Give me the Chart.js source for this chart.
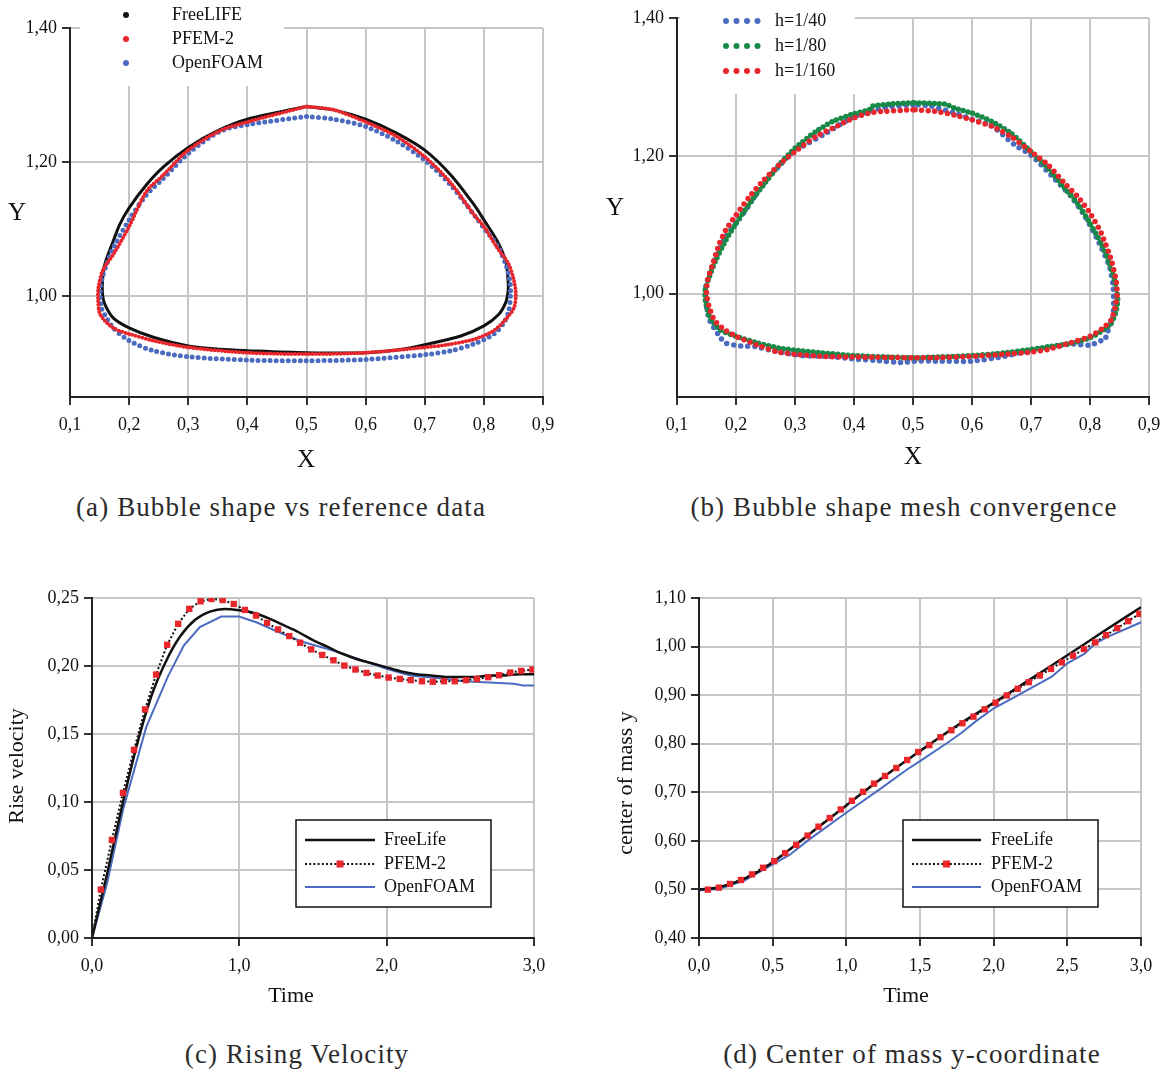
<!DOCTYPE html>
<html>
<head>
<meta charset="utf-8">
<script src="https://cdn.jsdelivr.net/npm/chart.js@4.4.1/dist/chart.umd.min.js"></script>
<style>
  body { margin: 0; background: #fff; width: 1167px; height: 1073px; position: relative; overflow: hidden; }
  .box { position: absolute; }
  .cap { position: absolute; font-family: "Liberation Serif", serif; font-size: 27px; letter-spacing: 1.1px; line-height: 1; color: #2a2a2a; white-space: nowrap; transform: translateX(-50%); }
</style>
</head>
<body>
<div class="box" style="left:0px;top:0px"><canvas id="chartA" width="570" height="480"></canvas></div>
<div class="box" style="left:585px;top:0px"><canvas id="chartB" width="582" height="480"></canvas></div>
<div class="box" style="left:0px;top:560px"><canvas id="chartC" width="570" height="460"></canvas></div>
<div class="box" style="left:585px;top:560px"><canvas id="chartD" width="582" height="460"></canvas></div>

<div class="cap" style="left:281px;top:494px">(a) Bubble shape vs reference data</div>
<div class="cap" style="left:904px;top:494px">(b) Bubble shape mesh convergence</div>
<div class="cap" style="left:297px;top:1041px">(c) Rising Velocity</div>
<div class="cap" style="left:912px;top:1041px">(d) Center of mass y-coordinate</div>

<script>
// ---- (a) bubble shape vs reference data (closed contours)
const freeLifeX = [0.5, 0.4, 0.35, 0.3, 0.258, 0.229, 0.2, 0.184, 0.173, 0.159, 0.155, 0.155, 0.159, 0.173, 0.2, 0.241, 0.3, 0.354, 0.4, 0.5,
  0.6, 0.653, 0.7, 0.761, 0.8, 0.825, 0.837, 0.841, 0.841, 0.837, 0.823, 0.8, 0.783, 0.744, 0.7, 0.653, 0.6, 0.546, 0.5];
const freeLifeY = [1.283, 1.264, 1.247, 1.222, 1.193, 1.166, 1.132, 1.107, 1.082, 1.048, 1.023, 1.003, 0.988, 0.968, 0.953, 0.939, 0.926, 0.921, 0.919, 0.916,
  0.916, 0.920, 0.928, 0.941, 0.956, 0.973, 0.991, 1.008, 1.023, 1.052, 1.082, 1.114, 1.137, 1.181, 1.218, 1.243, 1.264, 1.278, 1.283];

const pfemX = [0.5, 0.4, 0.354, 0.3, 0.258, 0.229, 0.2, 0.173, 0.156, 0.148, 0.1475, 0.151, 0.173, 0.2, 0.241, 0.3, 0.4, 0.5,
  0.6, 0.7, 0.738, 0.783, 0.817, 0.839, 0.851, 0.854, 0.851, 0.842, 0.823, 0.8, 0.783, 0.744, 0.7, 0.653, 0.6, 0.546, 0.5];
const pfemY = [1.283, 1.260, 1.247, 1.218, 1.181, 1.156, 1.104, 1.062, 1.040, 1.013, 0.995, 0.973, 0.953, 0.944, 0.934, 0.924, 0.916, 0.914,
  0.916, 0.924, 0.928, 0.936, 0.949, 0.968, 0.983, 1.003, 1.023, 1.048, 1.072, 1.104, 1.122, 1.169, 1.208, 1.238, 1.260, 1.278, 1.283];

const foamX = [0.5, 0.4, 0.354, 0.3, 0.258, 0.229, 0.2, 0.173, 0.162, 0.153, 0.151, 0.153, 0.162, 0.173, 0.2, 0.241, 0.3, 0.4, 0.5,
  0.6, 0.7, 0.744, 0.783, 0.817, 0.834, 0.842, 0.845, 0.844, 0.837, 0.823, 0.8, 0.783, 0.744, 0.7, 0.653, 0.6, 0.546, 0.5];
const foamY = [1.268, 1.256, 1.246, 1.213, 1.176, 1.151, 1.114, 1.072, 1.048, 1.023, 1.008, 0.983, 0.968, 0.953, 0.934, 0.919, 0.910, 0.905, 0.904,
  0.906, 0.913, 0.919, 0.929, 0.944, 0.961, 0.978, 1.003, 1.023, 1.048, 1.075, 1.102, 1.122, 1.166, 1.203, 1.231, 1.253, 1.264, 1.268];

// ---- (b) mesh convergence
const h40X = [0.5, 0.459, 0.437, 0.4, 0.347, 0.313, 0.3, 0.273, 0.245, 0.217, 0.2, 0.183, 0.166, 0.158, 0.149, 0.150, 0.155, 0.172, 0.183, 0.208, 0.234, 0.268, 0.313, 0.358, 0.4, 0.437, 0.482, 0.5,
  0.542, 0.6, 0.655, 0.7, 0.729, 0.768, 0.8, 0.819, 0.825, 0.830, 0.839, 0.840, 0.839, 0.833, 0.813, 0.793, 0.768, 0.734, 0.7, 0.672, 0.633, 0.6, 0.571, 0.531, 0.5];
const h40Y = [1.274, 1.271, 1.267, 1.257, 1.230, 1.214, 1.209, 1.185, 1.158, 1.122, 1.102, 1.083, 1.054, 1.035, 1.011, 0.982, 0.962, 0.938, 0.928, 0.924, 0.923, 0.916, 0.910, 0.909, 0.905, 0.903, 0.900, 0.902,
  0.902, 0.902, 0.909, 0.918, 0.921, 0.927, 0.925, 0.932, 0.933, 0.945, 0.967, 0.996, 1.013, 1.040, 1.078, 1.110, 1.141, 1.172, 1.201, 1.216, 1.244, 1.253, 1.262, 1.272, 1.274];

const h80X = [0.5, 0.459, 0.431, 0.426, 0.4, 0.364, 0.335, 0.3, 0.273, 0.245, 0.223, 0.2, 0.183, 0.166, 0.155, 0.148, 0.148, 0.155, 0.172, 0.2, 0.234, 0.273, 0.3, 0.347, 0.4, 0.459, 0.5,
  0.542, 0.6, 0.655, 0.7, 0.729, 0.768, 0.8, 0.819, 0.836, 0.844, 0.847, 0.843, 0.833, 0.819, 0.8, 0.779, 0.757, 0.729, 0.7, 0.666, 0.633, 0.6, 0.571, 0.554, 0.5];
const h80Y = [1.277, 1.275, 1.272, 1.267, 1.261, 1.250, 1.235, 1.211, 1.187, 1.156, 1.131, 1.102, 1.078, 1.049, 1.025, 1.006, 0.991, 0.967, 0.948, 0.938, 0.929, 0.921, 0.918, 0.914, 0.910, 0.908, 0.907,
  0.908, 0.910, 0.914, 0.919, 0.923, 0.928, 0.936, 0.945, 0.957, 0.974, 0.991, 1.015, 1.044, 1.073, 1.102, 1.131, 1.153, 1.182, 1.206, 1.233, 1.250, 1.262, 1.269, 1.275, 1.277];

const h160X = [0.5, 0.431, 0.4, 0.364, 0.335, 0.3, 0.273, 0.245, 0.223, 0.2, 0.183, 0.172, 0.161, 0.152, 0.150, 0.154, 0.163, 0.177, 0.2, 0.234, 0.268, 0.3, 0.347, 0.4, 0.5,
  0.542, 0.6, 0.655, 0.7, 0.729, 0.768, 0.8, 0.822, 0.836, 0.843, 0.846, 0.844, 0.836, 0.819, 0.8, 0.779, 0.757, 0.729, 0.7, 0.666, 0.633, 0.6, 0.571, 0.542, 0.5];
const h160Y = [1.267, 1.263, 1.255, 1.240, 1.228, 1.206, 1.187, 1.163, 1.141, 1.114, 1.093, 1.073, 1.044, 1.020, 1.001, 0.982, 0.962, 0.950, 0.938, 0.926, 0.916, 0.912, 0.909, 0.908, 0.907,
  0.907, 0.909, 0.912, 0.915, 0.919, 0.929, 0.938, 0.950, 0.962, 0.982, 1.001, 1.020, 1.049, 1.088, 1.117, 1.141, 1.160, 1.187, 1.206, 1.228, 1.243, 1.252, 1.259, 1.264, 1.267];

// ---- (c) rising velocity
const velTimeFL = [0, 0.1, 0.2, 0.3, 0.4, 0.5, 0.6, 0.7, 0.8, 0.9, 1.0, 1.1, 1.2, 1.3, 1.4, 1.5, 1.6, 1.7, 1.8, 1.9, 2.0,
  2.1, 2.2, 2.3, 2.4, 2.5, 2.6, 2.7, 2.8, 2.9, 3.0];
const velFL = [0, 0.046, 0.095, 0.140, 0.177, 0.203, 0.222, 0.234, 0.240, 0.242, 0.241, 0.239, 0.235, 0.230, 0.225, 0.219, 0.214, 0.209, 0.205, 0.202, 0.199,
  0.196, 0.194, 0.193, 0.192, 0.192, 0.192, 0.193, 0.193, 0.194, 0.194];
const pfemTime = [0.06, 0.135, 0.21, 0.285, 0.36, 0.435, 0.51, 0.585, 0.66, 0.737, 0.811, 0.887, 0.962, 1.038, 1.113, 1.188, 1.263, 1.339, 1.413, 1.488,
  1.563, 1.639, 1.713, 1.788, 1.863, 1.939, 2.013, 2.089, 2.163, 2.239, 2.313, 2.389, 2.462, 2.539, 2.613, 2.689, 2.763, 2.839, 2.913, 2.989];
const velPF = [0.0356, 0.0721, 0.1067, 0.1384, 0.1681, 0.1937, 0.2156, 0.2310, 0.2420, 0.2476, 0.2493, 0.2485, 0.2456, 0.2412, 0.2371, 0.2317, 0.2269, 0.2220, 0.2171, 0.2122,
  0.2081, 0.2042, 0.2003, 0.1974, 0.1949, 0.1930, 0.1915, 0.1905, 0.1896, 0.1888, 0.1884, 0.1888, 0.1888, 0.1896, 0.1905, 0.1918, 0.1932, 0.1952, 0.1964, 0.1974];
const velTimeOF = [0, 0.102, 0.211, 0.368, 0.514, 0.623, 0.732, 0.877, 0.998, 1.119, 1.265, 1.434, 1.677, 1.999, 2.161, 2.355, 2.525, 2.864, 2.925, 3.0];
const velOF = [0, 0.040, 0.0945, 0.155, 0.192, 0.215, 0.2286, 0.2364, 0.2364, 0.232, 0.225, 0.2176, 0.210, 0.198, 0.193, 0.191, 0.1888, 0.187, 0.1857, 0.1857];

// ---- (d) center of mass y
const cmTimeFL = [0, 0.125, 0.25, 0.375, 0.5, 0.75, 1.0, 1.25, 1.5, 1.75, 2.0, 2.25, 2.5, 2.75, 3.0];
const cmFL = [0.500, 0.504, 0.515, 0.532, 0.556, 0.614, 0.673, 0.731, 0.785, 0.837, 0.884, 0.933, 0.982, 1.032, 1.081];
const cmPF = [0.4996, 0.5037, 0.5112, 0.5194, 0.5310, 0.5446, 0.5583, 0.5747, 0.5917, 0.6108, 0.6292, 0.6470, 0.6647, 0.6825, 0.7009, 0.7179, 0.7336, 0.7500, 0.7664, 0.7828,
  0.7971, 0.8135, 0.8278, 0.8421, 0.8558, 0.8708, 0.8844, 0.8994, 0.9131, 0.9267, 0.9404, 0.9540, 0.9676, 0.9813, 0.9949, 1.0086, 1.0236, 1.0379, 1.0523, 1.0673];
const cmTimeOF = [0, 0.135, 0.307, 0.503, 0.614, 0.749, 0.999, 1.240, 1.412, 1.500, 1.682, 1.780, 1.878, 2.001, 2.148, 2.394, 2.502, 2.615, 2.688, 2.766, 3.0];
const cmOF = [0.498, 0.501, 0.518, 0.552, 0.571, 0.603, 0.658, 0.709, 0.747, 0.764, 0.801, 0.822, 0.846, 0.873, 0.897, 0.938, 0.966, 0.985, 1.006, 1.019, 1.050];

const BLACK = "#111111";
const RED = "#e8262c";
const BLUE = "#4a6bbf";
const GREEN = "#178a48";
const GRID = "#c6c6c6";

Chart.defaults.font.family = '"Liberation Serif", serif';
Chart.defaults.color = "#111";

function pts(xs, ys) {
  return xs.map((x, i) => ({ x: x, y: ys[i] }));
}

function fmt(dec) {
  return v => Number(v).toFixed(dec).replace(".", ",");
}

function xScale(min, max, step, dec, height) {
  return {
    type: "linear", min: min, max: max,
    ticks: { stepSize: step, callback: fmt(dec), font: { size: 18 }, padding: 9, maxRotation: 0, autoSkip: false },
    grid: { color: GRID, lineWidth: 2, tickColor: "#333", tickLength: 8, tickWidth: 2 },
    border: { color: "#222", width: 2, z: 1 },
    afterFit: s => { s.height = height; s.paddingLeft = 0; s.paddingRight = 0; }
  };
}

function yScale(min, max, step, dec, width, only) {
  const o = {
    type: "linear", min: min, max: max,
    ticks: { stepSize: step, callback: fmt(dec), font: { size: 18 }, padding: 5, autoSkip: false },
    grid: { color: GRID, lineWidth: 2, tickColor: "#333", tickLength: 8, tickWidth: 2 },
    border: { color: "#222", width: 2, z: 1 },
    afterFit: s => { s.width = width; s.paddingTop = 0; s.paddingBottom = 0; }
  };
  if (only) {
    o.afterBuildTicks = s => { s.ticks = only.map(v => ({ value: v })); };
  }
  return o;
}

// draws axis titles and the in-plot legends
const overlay = {
  id: "overlay",
  afterDatasetsDraw(chart, args, opts) {
    const ctx = chart.ctx;
    const ox = chart.canvas.parentNode.offsetLeft;
    const oy = chart.canvas.parentNode.offsetTop;
    ctx.save();
    ctx.translate(-ox, -oy);

    const lg = opts.legend;
    if (lg) {
      ctx.fillStyle = "#fff";
      ctx.fillRect(lg.box[0], lg.box[1], lg.box[2], lg.box[3]);
      if (lg.frame) {
        ctx.strokeStyle = "#111";
        ctx.lineWidth = 1.5;
        ctx.strokeRect(lg.box[0], lg.box[1], lg.box[2], lg.box[3]);
      }
      lg.items.forEach((di, row) => {
        const ds = chart.data.datasets[di];
        const y = lg.rows[row];
        if (lg.kind === "dot") {
          ctx.fillStyle = ds.borderColor;
          ctx.beginPath();
          ctx.arc(lg.sx, y, lg.r, 0, Math.PI * 2);
          ctx.fill();
        } else if (lg.kind === "dots") {
          ctx.fillStyle = ds.borderColor;
          for (let k = 0; k < 4; k++) {
            ctx.beginPath();
            ctx.arc(lg.sx + k * 10.5, y, lg.r, 0, Math.PI * 2);
            ctx.fill();
          }
        } else {
          ctx.strokeStyle = ds.borderColor;
          ctx.lineWidth = ds.borderWidth;
          ctx.setLineDash(ds.borderDash || []);
          ctx.beginPath();
          ctx.moveTo(lg.sx, y);
          ctx.lineTo(lg.sx2, y);
          ctx.stroke();
          ctx.setLineDash([]);
          if (ds.pointStyle === "rect") {
            ctx.fillStyle = ds.pointBackgroundColor;
            ctx.fillRect((lg.sx + lg.sx2) / 2 - 3.5, y - 3.5, 7, 7);
          }
        }
        ctx.fillStyle = "#111";
        ctx.font = "18px 'Liberation Serif'";
        ctx.textAlign = "left";
        ctx.textBaseline = "middle";
        ctx.fillText(ds.label, lg.tx, y);
      });
    }

    (opts.titles || []).forEach(t => {
      ctx.save();
      ctx.translate(t.x, t.y);
      if (t.rot) ctx.rotate(t.rot);
      ctx.fillStyle = "#111";
      ctx.font = t.size + "px 'Liberation Serif'";
      ctx.textAlign = "center";
      ctx.textBaseline = "middle";
      ctx.fillText(t.text, 0, 0);
      ctx.restore();
    });
    ctx.restore();
  }
};

function baseOptions(padding, scales, overlayOpts) {
  return {
    responsive: false,
    animation: false,
    layout: { padding: padding },
    scales: scales,
    plugins: { legend: { display: false }, tooltip: { enabled: false }, overlay: overlayOpts },
    elements: { point: { radius: 0, hoverRadius: 0 } }
  };
}

function dotted(label, xs, ys, color, width, gap, order, tension) {
  return {
    label: label, data: pts(xs, ys), showLine: true, borderColor: color, backgroundColor: color,
    borderWidth: width, borderDash: gap ? [0, gap] : [], borderCapStyle: "round",
    tension: tension, pointRadius: 0, order: order
  };
}

// (a)
new Chart(document.getElementById("chartA"), {
  type: "scatter",
  data: {
    datasets: [
      dotted("FreeLIFE", freeLifeX, freeLifeY, BLACK, 3, 0, 3, 0.3),
      dotted("PFEM-2", pfemX, pfemY, RED, 4, 3.5, 1, 0.3),
      dotted("OpenFOAM", foamX, foamY, BLUE, 5, 6, 2, 0.3)
    ]
  },
  options: baseOptions({ left: 0, top: 28, right: 27, bottom: 0 }, {
    x: xScale(0.1, 0.9, 0.1, 1, 83),
    y: yScale(0.85, 1.4, 0.2, 2, 70, [1.0, 1.2, 1.4])
  }, {
    legend: { box: [80, 0, 204, 86], rows: [15, 39, 63], items: [0, 1, 2], kind: "dot", sx: 126, r: 3, tx: 172 },
    titles: [{ text: "X", x: 306, y: 460, size: 25 }, { text: "Y", x: 17, y: 213, size: 25 }]
  }),
  plugins: [overlay]
});

// (b)
new Chart(document.getElementById("chartB"), {
  type: "scatter",
  data: {
    datasets: [
      dotted("h=1/40", h40X, h40Y, BLUE, 5.5, 7, 3, 0.2),
      dotted("h=1/80", h80X, h80Y, GREEN, 5.5, 5, 2, 0.2),
      dotted("h=1/160", h160X, h160Y, RED, 5.5, 6.5, 1, 0.2)
    ]
  },
  options: baseOptions({ left: 0, top: 18, right: 18, bottom: 0 }, {
    x: xScale(0.1, 0.9, 0.1, 1, 83),
    y: yScale(0.85, 1.4, 0.2, 2, 92, [1.0, 1.2, 1.4])
  }, {
    legend: { box: [680, 0, 175, 94], rows: [21, 46, 71], items: [0, 1, 2], kind: "dots", sx: 726, r: 3, tx: 775 },
    titles: [{ text: "X", x: 913, y: 457, size: 25 }, { text: "Y", x: 615, y: 208, size: 25 }]
  }),
  plugins: [overlay]
});

function curveSets(flT, flV, pfT, pfV, ofT, ofV) {
  return [
    { label: "FreeLife", data: pts(flT, flV), showLine: true, borderColor: BLACK, borderWidth: 2.5,
      cubicInterpolationMode: "monotone", pointRadius: 0, order: 2 },
    { label: "PFEM-2", data: pts(pfT, pfV), showLine: true, borderColor: BLACK, borderWidth: 2, borderDash: [2, 2.2],
      pointStyle: "rect", pointRadius: c => (c.raw && c.raw.x === 0 ? 0 : 4.5), pointBackgroundColor: RED,
      pointBorderWidth: 0, tension: 0, order: 1 },
    { label: "OpenFOAM", data: pts(ofT, ofV), showLine: true, borderColor: BLUE, borderWidth: 2,
      tension: 0, pointRadius: 0, order: 3 }
  ];
}

// (c)
new Chart(document.getElementById("chartC"), {
  type: "scatter",
  data: { datasets: curveSets(velTimeFL, velFL, [0].concat(pfemTime), [0].concat(velPF), velTimeOF, velOF) },
  options: baseOptions({ left: 0, top: 38, right: 36, bottom: 0 }, {
    x: xScale(0, 3, 1, 1, 82),
    y: yScale(0, 0.25, 0.05, 2, 92)
  }, {
    legend: { box: [296, 820, 195, 87], frame: true, rows: [840, 864, 887], items: [0, 1, 2], kind: "line", sx: 305, sx2: 375, tx: 384 },
    titles: [{ text: "Time", x: 291, y: 996, size: 22 }, { text: "Rise velocity", x: 17, y: 766, size: 22, rot: -Math.PI / 2 }]
  }),
  plugins: [overlay]
});

// (d)
new Chart(document.getElementById("chartD"), {
  type: "scatter",
  data: { datasets: curveSets(cmTimeFL, cmFL, pfemTime, cmPF, cmTimeOF, cmOF) },
  options: baseOptions({ left: 0, top: 38, right: 26, bottom: 0 }, {
    x: xScale(0, 3, 0.5, 1, 82),
    y: yScale(0.4, 1.1, 0.1, 2, 114)
  }, {
    legend: { box: [903, 820, 195, 87], frame: true, rows: [840, 864, 887], items: [0, 1, 2], kind: "line", sx: 912, sx2: 981, tx: 991 },
    titles: [{ text: "Time", x: 906, y: 996, size: 22 }, { text: "center of mass y", x: 626, y: 783, size: 22, rot: -Math.PI / 2 }]
  }),
  plugins: [overlay]
});
</script>
</body>
</html>
